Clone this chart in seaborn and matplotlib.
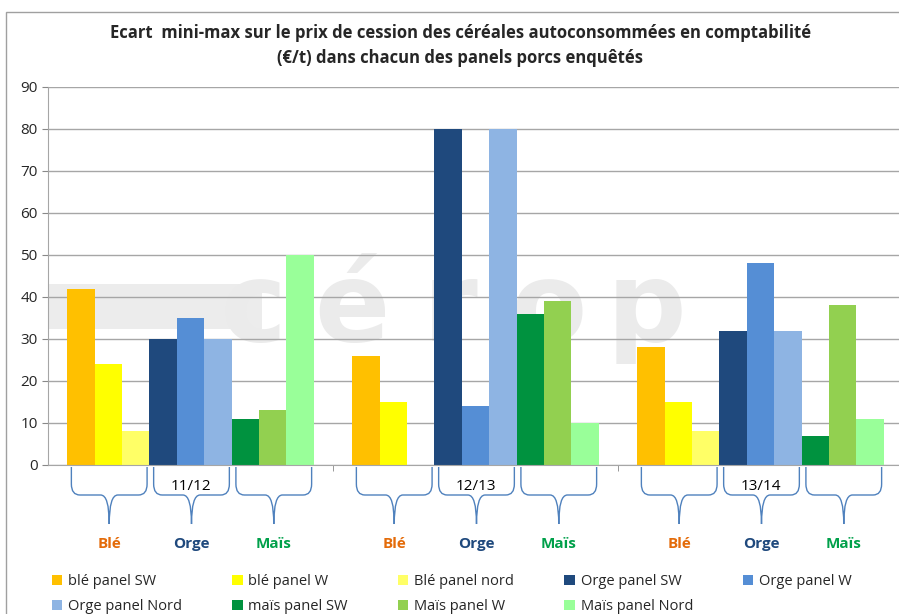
import matplotlib
matplotlib.use('Agg')
import matplotlib.pyplot as plt
import seaborn as sns
import pandas as pd
from matplotlib import font_manager
from matplotlib.path import Path
from matplotlib.patches import PathPatch, Rectangle
from matplotlib.transforms import blended_transform_factory

periods = ['11/12', '12/13', '13/14']
crops = ['Blé', 'Orge', 'Maïs']
crop_colors = ['#E46C0A', '#1F497D', '#00A04A']

series = ['blé panel SW', 'blé panel W', 'Blé panel nord',
          'Orge panel SW', 'Orge panel W', 'Orge panel Nord',
          'maïs panel SW', 'Maïs panel W', 'Maïs panel Nord']
colors = ['#FFC000', '#FFFF00', '#FFFF66',
          '#1F497D', '#558ED5', '#8EB4E3',
          '#00923F', '#92D050', '#99FF99']

ble_sw = [42, 26, 28]
ble_w = [24, 15, 15]
ble_nord = [8, 0, 8]
orge_sw = [30, 80, 32]
orge_w = [35, 14, 48]
orge_nord = [30, 80, 32]
mais_sw = [11, 36, 7]
mais_w = [13, 39, 38]
mais_nord = [50, 10, 11]

values = [ble_sw, ble_w, ble_nord, orge_sw, orge_w, orge_nord, mais_sw, mais_w, mais_nord]
rows = []
for name, vals in zip(series, values):
    for p, v in zip(periods, vals):
        rows.append({'period': p, 'series': name, 'value': v})
df = pd.DataFrame(rows)

sns.set_style('white')


def pick(names):
    for n in names:
        try:
            font_manager.findfont(n, fallback_to_default=False)
            return n
        except Exception:
            pass
    return 'DejaVu Sans'


font = pick(['Liberation Sans Narrow', 'Open Sans', 'Liberation Sans'])
plt.rcParams['font.family'] = [font, 'DejaVu Sans']

W, H = 899, 614
fig = plt.figure(figsize=(W / 100, H / 100), dpi=100)
ax = fig.add_axes([48 / W, 1 - 465 / H, 855 / W, 378 / H])

group_w = 0.866
sns.barplot(data=df, x='period', y='value', hue='series', hue_order=series,
            palette=colors, width=group_w, gap=0, dodge=True, saturation=1,
            linewidth=0, ax=ax)
handles, labels = ax.get_legend_handles_labels()
ax.get_legend().remove()

ax.set_xlim(-0.5, 2.5)
ax.set_ylim(0, 90)
ax.set_yticks(range(0, 91, 10))
ax.tick_params(axis='y', labelsize=11, length=4, color='#888888', direction='out', left=True)
ax.set_xticks([])
ax.set_xticks([0.5, 1.5], minor=True)
ax.tick_params(axis='x', which='minor', length=4, color='#888888', direction='out', bottom=True)
ax.set_xlabel(None)
ax.set_ylabel(None)
ax.yaxis.grid(True, color='#A6A6A6', linewidth=1)
ax.set_axisbelow(True)
for s in ['top', 'right']:
    ax.spines[s].set_visible(False)
ax.spines['left'].set_color('#A6A6A6')
ax.spines['bottom'].set_color('#A6A6A6')

# faint logo in the background
ax.add_patch(Rectangle((-0.05, 0.36), 0.30, 0.12, transform=ax.transAxes,
                       color='#ECECEC', zorder=0.1, lw=0))
for k, ch in enumerate('cérop'):
    ax.text(0.24 + k * 0.115, 0.41, ch, transform=ax.transAxes, ha='center', va='center',
            fontsize=80, color='#EBEBEB', fontweight='bold', family='DejaVu Sans',
            zorder=0.2)

# braces and labels under the bars
bw = group_w / 9
tr = blended_transform_factory(ax.transData, fig.transFigure)
y_top = 1 - 467 / H
y_mid = 1 - 495 / H
y_tip = 1 - 524 / H
y_bend = 1 - 484 / H
for i, p in enumerate(periods):
    for j, c in enumerate(crops):
        x0 = i - group_w / 2 + 3 * j * bw + 0.015
        x1 = i - group_w / 2 + (3 * j + 3) * bw - 0.008
        xc = (x0 + x1) / 2
        d = 0.03
        verts = [(x0, y_top), (x0, y_bend), (x0, y_mid), (x0 + d, y_mid),
                 (xc - d, y_mid), (xc, y_mid), (xc, y_tip),
                 (xc, y_mid), (xc + d, y_mid),
                 (x1 - d, y_mid), (x1, y_mid), (x1, y_bend), (x1, y_top)]
        codes = [Path.MOVETO, Path.LINETO, Path.CURVE3, Path.CURVE3,
                 Path.LINETO, Path.CURVE3, Path.CURVE3,
                 Path.CURVE3, Path.CURVE3,
                 Path.LINETO, Path.CURVE3, Path.CURVE3, Path.LINETO]
        patch = PathPatch(Path(verts, codes), transform=tr, fill=False,
                          edgecolor='#4F81BD', lw=1, clip_on=False)
        ax.add_patch(patch)
        ax.text(xc, 1 - 544 / H, c, transform=tr, ha='center', va='center',
                color=crop_colors[j], fontsize=11, fontweight='bold')
    ax.text(i, 1 - 487 / H, p, transform=tr, ha='center', va='center',
            fontsize=11, color='black')

fig.text(0.512, 1 - 33 / H, 'Ecart  mini-max sur le prix de cession des céréales autoconsommées en comptabilité',
         ha='center', va='center', fontsize=12, fontweight='bold')
fig.text(0.512, 1 - 58 / H, '(€/t) dans chacun des panels porcs enquêtés',
         ha='center', va='center', fontsize=12, fontweight='bold')

# legend filled row by row, like the original
order = [0, 5, 1, 6, 2, 7, 3, 8, 4]
fig.legend([handles[k] for k in order], [labels[k] for k in order],
           loc='upper left', ncol=5, mode='expand',
           bbox_to_anchor=(52 / W, 1 - 580 / H, 800 / W, 0.01),
           frameon=False, fontsize=10.5, handlelength=0.7, handleheight=0.7,
           handletextpad=0.4, labelspacing=0.7, borderaxespad=0, borderpad=0)

fig.add_artist(Rectangle((6 / W, -0.01), 1.0, 1 - 12 / H + 0.01, transform=fig.transFigure,
                         fill=False, edgecolor='#A0A0A0', lw=1))

fig.savefig('out.png', dpi=100)
